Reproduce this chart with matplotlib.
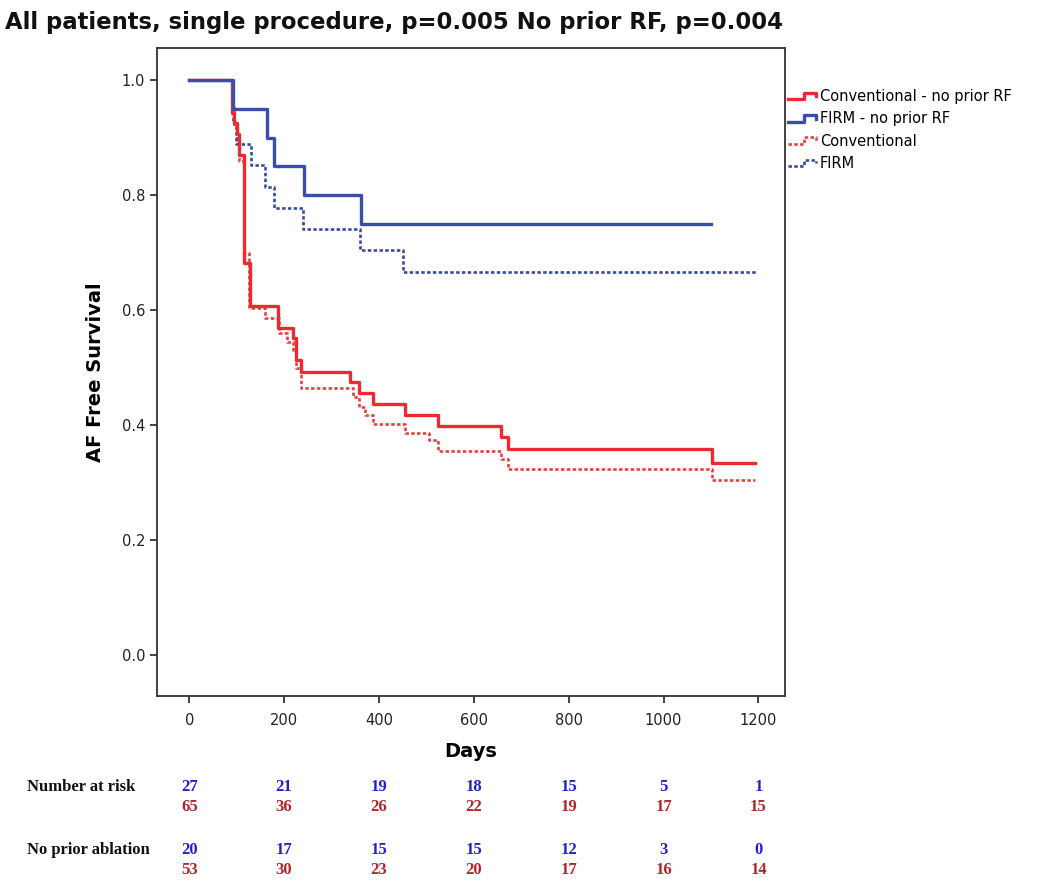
import matplotlib
matplotlib.use('Agg')
import matplotlib.pyplot as plt
import matplotlib.transforms as mtransforms
from matplotlib.legend_handler import HandlerLine2D
from matplotlib.lines import Line2D
import numpy as np

# Kaplan-Meier steps (days, survival)
firm_norf_t = [0, 92, 163, 178, 242, 362]
firm_norf_s = [1.0, 0.95, 0.90, 0.85, 0.80, 0.75]
firm_norf_end = 1100

firm_all_t = [0, 93, 98, 130, 160, 178, 240, 360, 450]
firm_all_s = [1.0, 0.926, 0.889, 0.852, 0.815, 0.778, 0.741, 0.704, 0.667]
firm_all_end = 1195

conv_norf_t = [0, 90, 95, 100, 104, 115, 128, 187, 219, 226, 236, 338, 358, 388, 454, 524, 658, 673, 1102]
conv_norf_s = [1.0, 0.943, 0.925, 0.906, 0.870, 0.682, 0.607, 0.569, 0.551, 0.513, 0.492,
               0.475, 0.456, 0.436, 0.417, 0.398, 0.379, 0.358, 0.335]
conv_norf_end = 1192

conv_all_t = [0, 90, 95, 100, 105, 115, 125, 160, 189, 206, 219, 226, 236, 345, 358, 371, 388,
              454, 505, 524, 658, 673, 1102]
conv_all_s = [1.0, 0.954, 0.92, 0.89, 0.86, 0.70, 0.603, 0.586, 0.56, 0.545, 0.53, 0.50, 0.464,
              0.449, 0.432, 0.417, 0.402, 0.386, 0.374, 0.355, 0.341, 0.323, 0.304]
conv_all_end = 1192

# number at risk table
risk_days = [0, 200, 400, 600, 800, 1000, 1200]
risk_firm_all = [27, 21, 19, 18, 15, 5, 1]
risk_conv_all = [65, 36, 26, 22, 19, 17, 15]
risk_firm_norf = [20, 17, 15, 15, 12, 3, 0]
risk_conv_norf = [53, 30, 23, 20, 17, 16, 14]

red = '#ee2a30'
blue = '#3a4ea6'
red_dot = '#e2413f'
blue_dot = '#3a4a9c'


class StepHandler(HandlerLine2D):
    # little step glyph like in the SPSS legend
    def create_artists(self, legend, orig_handle, xdescent, ydescent, width, height, fontsize, trans):
        xs = np.array([0, 0.55, 0.55, 0.95, 0.95]) * width - xdescent
        ys = np.array([0.15, 0.15, 0.8, 0.8, 0.45]) * height - ydescent
        line = Line2D(xs, ys)
        self.update_prop(line, orig_handle, legend)
        line.set_transform(trans)
        return [line]


def km(ax, t, s, end, **kw):
    ax.step(list(t) + [end], list(s) + [s[-1]], where='post', **kw)


fig = plt.figure(figsize=(10.5, 8.9), dpi=100)
ax = fig.add_axes([157 / 1050, 1 - 696 / 890, 628 / 1050, 648 / 890])

km(ax, conv_all_t, conv_all_s, conv_all_end, color=red_dot, lw=1.9, dashes=(1.3, 0.9), label='Conventional')
km(ax, firm_all_t, firm_all_s, firm_all_end, color=blue_dot, lw=1.9, dashes=(1.3, 0.9), label='FIRM')
km(ax, conv_norf_t, conv_norf_s, conv_norf_end, color=red, lw=2.4, label='Conventional - no prior RF')
km(ax, firm_norf_t, firm_norf_s, firm_norf_end, color=blue, lw=2.4, label='FIRM - no prior RF')

ax.set_xlim(-68, 1256)
ax.set_ylim(-0.071, 1.056)
ax.set_xticks(risk_days)
ax.set_yticks([0.0, 0.2, 0.4, 0.6, 0.8, 1.0])
ax.set_yticklabels(['0.0', '0.2', '0.4', '0.6', '0.8', '1.0'])
ax.tick_params(direction='out', length=5, width=1.2, labelsize=10.5, colors='#222222')
ax.tick_params(axis='x', pad=7)
for sp in ax.spines.values():
    sp.set_linewidth(1.3)
    sp.set_color('#333333')

ax.set_xlabel('Days', fontsize=14, fontweight='bold', labelpad=10)
ax.set_ylabel('AF Free Survival', fontsize=14, fontweight='bold', labelpad=12)

fig.text(5 / 1050, 1 - 22 / 890, 'All patients, single procedure, p=0.005 No prior RF, p=0.004',
         fontsize=16.4, fontweight='bold', va='center', ha='left', color='#111111')

handles, labels = ax.get_legend_handles_labels()
order = [2, 3, 0, 1]
leg = fig.legend([handles[i] for i in order], [labels[i] for i in order],
                 loc='upper left', bbox_to_anchor=(788 / 1050, 1 - 89 / 890),
                 frameon=False, fontsize=10.5, handlelength=2.0, handletextpad=0.2,
                 labelspacing=0.5, borderpad=0, borderaxespad=0,
                 handler_map={Line2D: StepHandler()})

# number at risk rows under the axis
tr = mtransforms.blended_transform_factory(ax.transData, fig.transFigure)
rows = [(risk_firm_all, '#2020d0', 787), (risk_conv_all, '#b0242a', 807),
        (risk_firm_norf, '#2020d0', 850), (risk_conv_norf, '#b0242a', 870)]
for vals, col, ypx in rows:
    for d, v in zip(risk_days, vals):
        fig.text(d, 1 - ypx / 890, str(v), transform=tr, ha='center', va='center',
                 color=col, fontsize=12, family='Liberation Serif', fontweight='bold')

fig.text(27 / 1050, 1 - 787 / 890, 'Number at risk', ha='left', va='center', fontsize=12,
         family='Liberation Serif', fontweight='bold', color='#111111')
fig.text(27 / 1050, 1 - 850 / 890, 'No prior ablation', ha='left', va='center', fontsize=12,
         family='Liberation Serif', fontweight='bold', color='#111111')

fig.savefig('out.png', dpi=100)
